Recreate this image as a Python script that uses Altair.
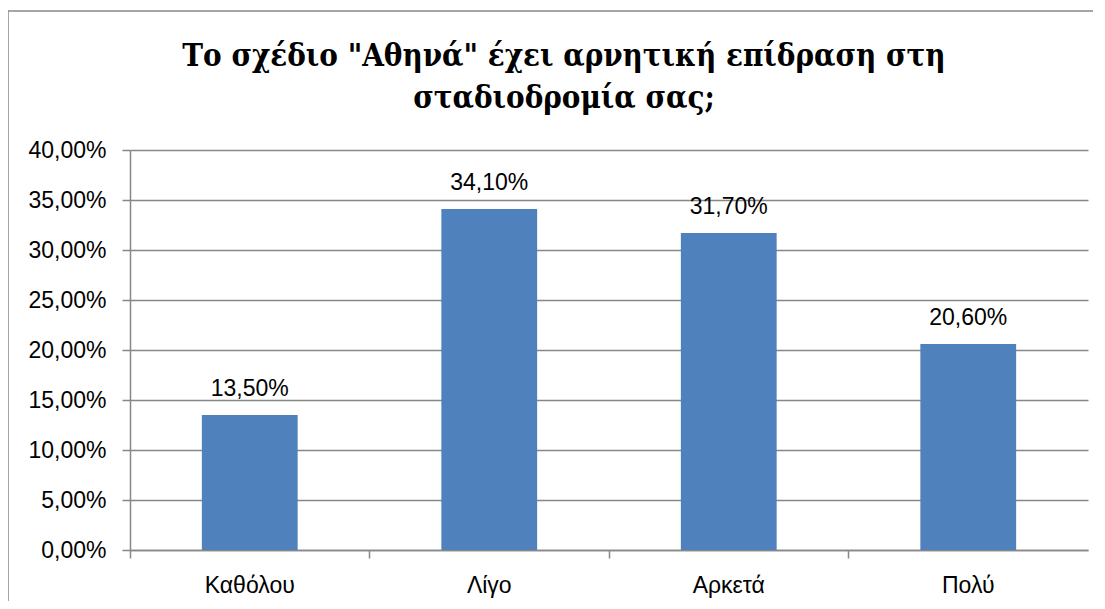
import altair as alt
import pandas as pd

categories = ["Καθόλου", "Λίγο", "Αρκετά", "Πολύ"]
values = [0.135, 0.341, 0.317, 0.206]
labels = ["13,50%", "34,10%", "31,70%", "20,60%"]
y_ticks = [0, 0.05, 0.10, 0.15, 0.20, 0.25, 0.30, 0.35, 0.40]
title_lines = ['Το σχέδιο "Αθηνά" έχει αρνητική επίδραση στη', 'σταδιοδρομία σας;']

df = pd.DataFrame({"cat": categories, "val": values, "lab": labels})

LABEL_FONT = "Liberation Sans"
FS = 23
GRID = "#878787"

x_enc = alt.X(
    "cat:N",
    sort=categories,
    scale=alt.Scale(paddingInner=0.6, paddingOuter=0.3),
    axis=alt.Axis(
        title=None, labelAngle=0, labelFont=LABEL_FONT, labelFontSize=FS,
        labelColor="#000000", labelPadding=16, tickSize=8, tickColor=GRID,
        domainColor=GRID, domainWidth=1.5, tickWidth=1.5, bandPosition=-0.75,
    ),
)
y_enc = alt.Y(
    "val:Q",
    scale=alt.Scale(domain=[0, 0.4], nice=False),
    axis=alt.Axis(
        title=None, values=y_ticks,
        labelExpr="replace(format(datum.value, '.2%'), '.', ',')",
        labelFont=LABEL_FONT, labelFontSize=FS, labelColor="#000000",
        labelPadding=16, tickSize=8, tickColor=GRID, tickWidth=1.5,
        domainColor=GRID, domainWidth=1.5, gridColor=GRID, gridWidth=1.5,
    ),
)

base = alt.Chart(df)
bars = base.mark_bar(color="#4F81BD").encode(x=x_enc, y=y_enc)
text = base.mark_text(
    dy=-19, baseline="alphabetic", font=LABEL_FONT, fontSize=FS, color="#000000"
).encode(x=alt.X("cat:N", sort=categories), y="val:Q", text="lab:N")

frame_top = alt.Chart(alt.Data(values=[{}])).mark_rule(
    stroke=GRID, strokeWidth=1.5
).encode(x=alt.value(-122), x2=alt.value(1300), y=alt.value(-139))
frame_left = alt.Chart(alt.Data(values=[{}])).mark_rule(
    stroke=GRID, strokeWidth=1.5
).encode(x=alt.value(-122), y=alt.value(-139), y2=alt.value(700))

title = alt.Chart(alt.Data(values=[{"t": title_lines}])).mark_text(
    font="DejaVu Serif Condensed", fontWeight="bold", fontSize=31, lineHeight=42,
    baseline="alphabetic", align="center", color="#000000",
).encode(x=alt.value(434), y=alt.value(-84), text="t:N")

chart = alt.layer(frame_top, frame_left, title, bars, text).properties(
    width=958,
    height=400,
    autosize=alt.AutoSizeParams(type="none"),
    padding={"left": 122, "top": 142, "right": 5, "bottom": 51},
).configure_view(stroke=None)

chart.save("out.html", embed_options={"renderer": "svg", "actions": False})
